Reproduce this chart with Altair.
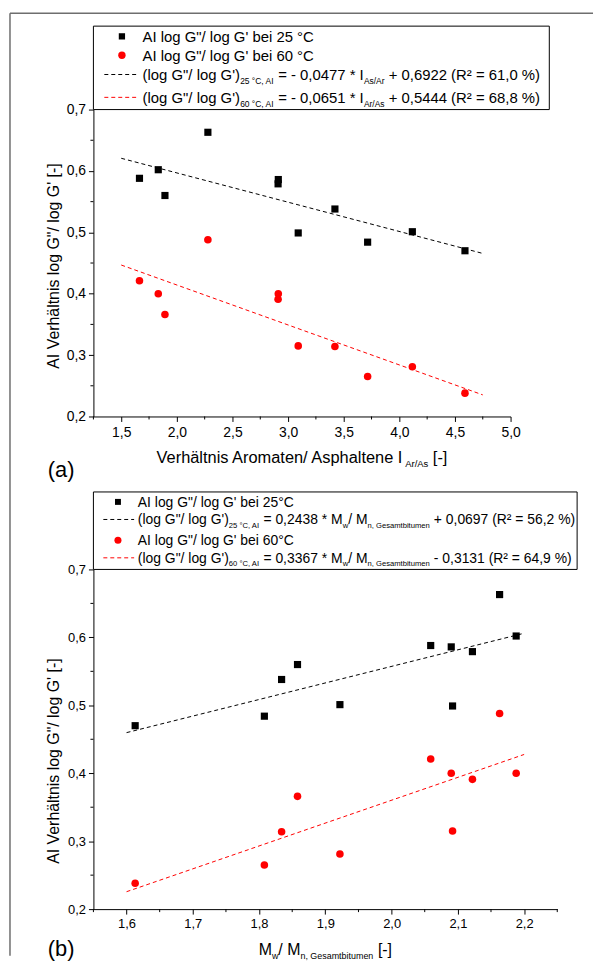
import altair as alt
import pandas as pd

# ---------------- data ----------------
sample_ids = ["S1", "S2", "S3", "S4", "S5", "S6", "S7", "S8", "S9", "S10", "S11"]
ratio_ar_as = [1.664, 1.833, 1.893, 2.279, 2.912, 2.910, 3.091, 3.421, 3.715, 4.117, 4.590]
mw_mn = [2.059, 2.188, 1.858, 2.163, 2.090, 2.122, 2.092, 1.834, 1.808, 1.922, 1.613]
ai_25 = [0.588, 0.602, 0.560, 0.663, 0.586, 0.579, 0.499, 0.538, 0.484, 0.501, 0.470]
ai_60 = [0.421, 0.400, 0.366, 0.488, 0.400, 0.391, 0.315, 0.314, 0.265, 0.281, 0.238]

# regression lines (from the legend)  [25 °C, 60 °C]
fit_a_slope = [-0.0477, -0.0651]
fit_a_icpt = [0.6922, 0.5444]
fit_a_r2 = ["61,0", "68,8"]
fit_a_range = [1.5, 4.75]
fit_b_slope = [0.2438, 0.3367]
fit_b_icpt = [0.0697, -0.3131]
fit_b_r2 = ["56,2", "64,9"]
fit_b_range = [1.6, 2.2]

xa_ticks = [1.5, 2.0, 2.5, 3.0, 3.5, 4.0, 4.5, 5.0]
xa_minor = [1.25, 1.75, 2.25, 2.75, 3.25, 3.75, 4.25, 4.75]
xb_ticks = [1.6, 1.7, 1.8, 1.9, 2.0, 2.1, 2.2]
xb_minor = [1.55, 1.65, 1.75, 1.85, 1.95, 2.05, 2.15, 2.25]
y_ticks = [0.2, 0.3, 0.4, 0.5, 0.6, 0.7]
y_minor = [0.25, 0.35, 0.45, 0.55, 0.65]

FONT = "Liberation Sans"
BLACK = "#000000"
RED = "#ff0000"
one = pd.DataFrame({"k": [0]})

# Arial / Liberation Sans advance widths (1/1000 em)
W = {" ": 278, '"': 355, "%": 889, "'": 191, "(": 333, ")": 333, "*": 389, "+": 584,
     ",": 278, "-": 333, ".": 278, "/": 278, "=": 584, "A": 667, "C": 722, "G": 778,
     "I": 278, "M": 833, "R": 722, "V": 667, "[": 278, "]": 278, "a": 556, "b": 556,
     "e": 556, "g": 556, "h": 556, "i": 222, "l": 222, "m": 833, "n": 556, "o": 556,
     "p": 556, "r": 333, "s": 500, "t": 278, "u": 556, "w": 722, "ä": 556, "°": 400,
     "²": 333}


def tw(s, size):
    return sum(W.get(c, 556) for c in s) / 1000.0 * size


def seg(parts, x0, base, f, fs, sdy, color=BLACK):
    out = []
    x = x0
    for s, sub in parts:
        size = fs if sub else f
        body = s.strip(" ")
        lead = s[: len(s) - len(s.lstrip(" "))]
        xd = x + tw(lead, size)
        out.append(
            alt.Chart(one)
            .mark_text(align="left", baseline="alphabetic", font=FONT, fontSize=size,
                       color=color, text=body)
            .encode(x=alt.value(xd), y=alt.value(base + (sdy if sub else 0)))
        )
        x += tw(s, size)
    return out


def seg_width(parts, f, fs):
    return sum(tw(s, fs if sub else f) for s, sub in parts)


def num(v):
    return f"{abs(v):.4f}".replace(".", ",")


comma = "replace(format(datum.value, '.1f'), '.', ',')"


def axis(values, fs, pad):
    return alt.Axis(values=values, labelExpr=comma, title=None, grid=False,
                    domainColor=BLACK, tickColor=BLACK, tickSize=5, tickWidth=1,
                    domainWidth=1, labelFont=FONT, labelFontSize=fs, labelColor=BLACK,
                    labelPadding=pad, labelFlush=False, labelOverlap=False)


def panel(xvals, xdom, xmajor, xminor, W_, H_, fit_slope, fit_icpt, fit_rng, tick_fs):
    xs = alt.Scale(domain=xdom, nice=False, zero=False)
    ys = alt.Scale(domain=[0.2, 0.7], nice=False, zero=False)
    ax_x = axis(xmajor, tick_fs, 4)
    ax_y = axis(y_ticks, tick_fs, 3)
    X = alt.X("x:Q", scale=xs, axis=ax_x)
    Y = alt.Y("y:Q", scale=ys, axis=ax_y)

    d25 = pd.DataFrame({"x": xvals, "y": ai_25})
    d60 = pd.DataFrame({"x": xvals, "y": ai_60})
    sq = alt.Chart(d25).mark_point(shape="square", filled=True, size=52, color=BLACK,
                                   opacity=1).encode(x=X, y=Y)
    ci = alt.Chart(d60).mark_point(shape="circle", filled=True, size=58, color=RED,
                                   opacity=1).encode(x=X, y=Y)
    rows = []
    for i, name in enumerate(["25", "60"]):
        for xv in fit_rng:
            rows.append({"x": xv, "y": fit_slope[i] * xv + fit_icpt[i], "s": name})
    dfit = pd.DataFrame(rows)
    fit = alt.Chart(dfit).mark_line(strokeDash=[4, 3], strokeWidth=1).encode(
        x=X, y=Y, detail="s:N",
        color=alt.Color("s:N", scale=alt.Scale(domain=["25", "60"], range=[BLACK, RED]),
                        legend=None))
    mx = alt.Chart(pd.DataFrame({"x": xminor})).mark_rule(color=BLACK, strokeWidth=1).encode(
        x=X, y=alt.value(H_), y2=alt.value(H_ + 3))
    my = alt.Chart(pd.DataFrame({"y": y_minor})).mark_rule(color=BLACK, strokeWidth=1).encode(
        y=Y, x=alt.value(0), x2=alt.value(-3))
    return [fit, sq, ci, mx, my]


def box(x1, x2, y1, y2, color=BLACK, width=1):
    return alt.Chart(one).mark_rect(fill="white", stroke=color, strokeWidth=width).encode(
        x=alt.value(x1), x2=alt.value(x2), y=alt.value(y1), y2=alt.value(y2))


def hline(x1, x2, y, color, dash=None, width=1):
    kw = {"color": color, "strokeWidth": width}
    if dash:
        kw["strokeDash"] = dash
    return alt.Chart(one).mark_rule(**kw).encode(x=alt.value(x1), x2=alt.value(x2),
                                                 y=alt.value(y))


def marker(shape, color, x, y, size):
    return alt.Chart(one).mark_point(shape=shape, filled=True, color=color, size=size,
                                     opacity=1).encode(x=alt.value(x), y=alt.value(y))


GQ = "(log G\"/ log G')"

# ---------------- panel (a) ----------------
WA, HA = 420, 309
la = []
# outer frame (top + left)
la.append(hline(-84, 503, -97, "#6e6e6e", width=1.5))
la.append(alt.Chart(one).mark_rule(color="#6e6e6e", strokeWidth=1.5).encode(
    x=alt.value(-84), y=alt.value(-97), y2=alt.value(852)))
la += panel(ratio_ar_as, [1.25, 5.0], xa_ticks, xa_minor, WA, HA,
            fit_a_slope, fit_a_icpt, fit_a_range, 14)
# legend (a)
la.append(box(0, 459, -84, 0))
fA, sA = 15, 8.5
rows_a = [-73.7, -54.7, -35.3, -12.3]
la.append(marker("square", BLACK, 28.7, rows_a[0], 40))
la.append(marker("circle", RED, 28.7, rows_a[1], 55))
la.append(hline(11, 46, rows_a[2], BLACK, [4, 3]))
la.append(hline(11, 46, rows_a[3], RED, [4, 3]))
la += seg([("AI log G\"/ log G' bei 25 °C", False)], 49.5, rows_a[0] + 5.4, fA, sA, 4)
la += seg([("AI log G\"/ log G' bei 60 °C", False)], 49.5, rows_a[1] + 5.4, fA, sA, 4)
eq_a = [
    [(GQ, False), ("25 °C, AI", True), (f" = - {num(fit_a_slope[0])} * I", False),
     ("As/Ar", True), (f" + {num(fit_a_icpt[0])} (R² = {fit_a_r2[0]} %)", False)],
    [(GQ, False), ("60 °C, AI", True), (f" = - {num(fit_a_slope[1])} * I", False),
     ("Ar/As", True), (f" + {num(fit_a_icpt[1])} (R² = {fit_a_r2[1]} %)", False)],
]
la += seg(eq_a[0], 49.5, rows_a[2] + 5.4, fA, sA, 4)
la += seg(eq_a[1], 49.5, rows_a[3] + 5.4, fA, sA, 4)
# axis titles (a)
xt_a = [("Verhältnis Aromaten/ Asphaltene I", False), ("Ar/As", True), (" [-]", False)]
wxa = seg_width(xt_a, 16.5, 9.5)
la += seg(xt_a, WA / 2 - wxa / 2, 356, 16.5, 9.5, 4)
ytitle = "AI Verhältnis log G\"/ log G' [-]"
la.append(alt.Chart(one).mark_text(text=ytitle, angle=270, align="center", baseline="middle",
                                   font=FONT, fontSize=16, color=BLACK).encode(
    x=alt.value(-40), y=alt.value(HA / 2 + 3)))
la += seg([("(a)", False)], -46, 370, 22, 22, 0)
chart_a = alt.layer(*la).properties(width=WA, height=HA)

# ---------------- panel (b) ----------------
WB, HB = 467, 342
lb = []
lb += panel(mw_mn, [1.55, 2.25], xb_ticks, xb_minor, WB, HB,
            fit_b_slope, fit_b_icpt, fit_b_range, 13)
lb.append(box(0, 487, -78, 0))
fB, sB = 14, 7.7
rows_b = [-68, -50.3, -29.3, -11.7]
lb.append(marker("square", BLACK, 24.7, rows_b[0], 36))
lb.append(hline(10, 41, rows_b[1], BLACK, [4, 3]))
lb.append(marker("circle", RED, 24.7, rows_b[2], 50))
lb.append(hline(10, 41, rows_b[3], RED, [4, 3]))
lb += seg([("AI log G\"/ log G' bei 25°C", False)], 44.7, rows_b[0] + 5, fB, sB, 3.6)
lb += seg([("AI log G\"/ log G' bei 60°C", False)], 44.7, rows_b[2] + 5, fB, sB, 3.6)


def eq_b(i):
    sign = "+" if fit_b_icpt[i] >= 0 else "-"
    return [(GQ, False), (("25" if i == 0 else "60") + " °C, AI", True),
            (f" = {num(fit_b_slope[i])} * M", False), ("w", True), ("/ M", False),
            ("n, Gesamtbitumen", True),
            (f" {sign} {num(fit_b_icpt[i])} (R² = {fit_b_r2[i]} %)", False)]


lb += seg(eq_b(0), 44.7, rows_b[1] + 5, fB, sB, 3.6)
lb += seg(eq_b(1), 44.7, rows_b[3] + 5, fB, sB, 3.6)
xt_b = [("M", False), ("w", True), ("/ M", False), ("n, Gesamtbitumen", True), (" [-]", False)]
wxb = seg_width(xt_b, 16, 9)
lb += seg(xt_b, WB / 2 - wxb / 2, 388, 16, 9, 4)
lb.append(alt.Chart(one).mark_text(text=ytitle, angle=270, align="center", baseline="middle",
                                   font=FONT, fontSize=16, color=BLACK).encode(
    x=alt.value(-40), y=alt.value(HB / 2 + 22)))
lb += seg([("(b)", False)], -46, 389, 22, 22, 0)
chart_b = alt.layer(*lb).properties(width=WB, height=HB)

chart = (
    alt.vconcat(chart_a, chart_b, spacing=154, bounds="flush")
    .properties(padding=0)
    .configure_view(stroke="transparent")
)
chart.save("out.html", embed_options={"renderer": "svg", "actions": False})
